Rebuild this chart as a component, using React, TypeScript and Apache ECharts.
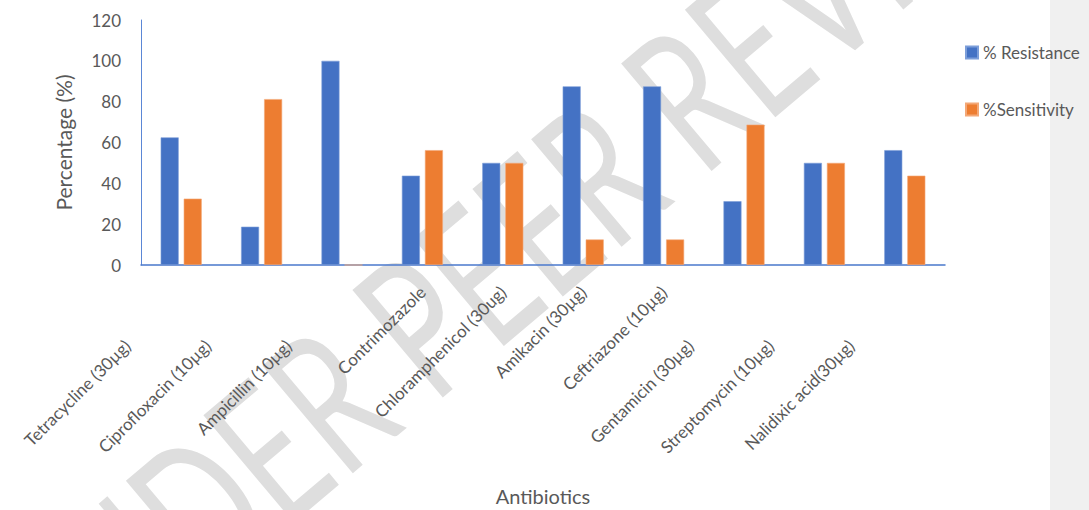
import React, { useEffect, useRef } from "react";
import * as echarts from "echarts";

const categories = [
  "Tetracycline (30µg)",
  "Ciprofloxacin (10µg)",
  "Ampicillin (10µg)",
  "Contrimozazole",
  "Chloramphenicol (30ug)",
  "Amikacin (30µg)",
  "Ceftriazone (10µg)",
  "Gentamicin (30µg)",
  "Streptomycin (10µg)",
  "Nalidixic acid(30µg)",
];
const resistance = [62.5, 18.75, 100, 43.75, 50, 87.5, 87.5, 31.25, 50, 56.25];
const sensitivity = [32.5, 81.25, 0, 56.25, 50, 12.5, 12.5, 68.75, 50, 43.75];
const yTicks = { min: 0, max: 120, interval: 20 };
// categories whose labels sit further down along their diagonal
const loweredLabels = [0, 1, 2, 7, 8, 9];

const FONT = "Lato, 'Open Sans', sans-serif";
const GREY = "#595959";

export default function App() {
  const ref = useRef<HTMLDivElement>(null);
  useEffect(() => {
    document.body.style.margin = "0";
    const chart = echarts.init(ref.current!, undefined, { renderer: "svg" });
    chart.setOption({
      animation: false,
      backgroundColor: "#ffffff",
      textStyle: { fontFamily: FONT },
      graphic: [
        {
          type: "rect",
          z: -20,
          silent: true,
          shape: { x: 1050, y: 0, width: 39, height: 510 },
          style: { fill: "#f0f0f0" },
        },
        {
          type: "text",
          z: -10,
          silent: true,
          x: 522,
          y: 232,
          rotation: 0.7,
          scaleX: 0.68,
          scaleY: 1,
          style: {
            text: "UNDER PEER REVIEW",
            font: "normal 196px " + FONT,
            fill: "#dedede",
            align: "center",
            verticalAlign: "middle",
          },
        },
      ],
      legend: {
        orient: "vertical",
        left: 965,
        top: 44,
        padding: 0,
        itemWidth: 12,
        itemHeight: 12,
        itemGap: 40,
        icon: "rect",
        textStyle: { color: GREY, fontSize: 17, fontFamily: FONT },
        data: ["% Resistance", "%Sensitivity"],
      },
      grid: { left: 141, right: 144, top: 20, bottom: 245, containLabel: false },
      xAxis: {
        type: "category",
        data: categories.map((c, i) =>
          loweredLabels.includes(i)
            ? { value: c, textStyle: { padding: [10, 76, 0, 0] } }
            : { value: c, textStyle: { padding: [10, 0, 0, 0] } }
        ),
        axisLine: { show: true, lineStyle: { color: "#4a78cc", width: 1.5 } },
        axisTick: { show: false },
        axisLabel: {
          rotate: 45,
          interval: 0,
          margin: 24,
          color: GREY,
          fontSize: 17,
          fontFamily: FONT,
        },
        name: "Antibiotics",
        nameLocation: "middle",
        nameGap: 221,
        nameTextStyle: { color: GREY, fontSize: 20, fontFamily: FONT },
      },
      yAxis: {
        type: "value",
        min: yTicks.min,
        max: yTicks.max,
        interval: yTicks.interval,
        splitLine: { show: false },
        axisLine: { show: true, lineStyle: { color: "#5b87d6", width: 1 } },
        axisTick: { show: false },
        axisLabel: { color: GREY, fontSize: 17, margin: 20, fontFamily: FONT },
        name: "Percentage (%)",
        nameLocation: "middle",
        nameGap: 67,
        nameTextStyle: { color: GREY, fontSize: 21, fontFamily: FONT },
      },
      series: [
        {
          name: "% Resistance",
          type: "bar",
          data: resistance,
          barWidth: 18,
          barGap: "28%",
          itemStyle: { color: "#4472c4", borderColor: "#7c9ed9", borderWidth: 0.6 },
        },
        {
          name: "%Sensitivity",
          type: "bar",
          data: sensitivity,
          barWidth: 18,
          itemStyle: { color: "#ed7d31", borderColor: "#f3a877", borderWidth: 0.6 },
        },
      ],
    });
    return () => chart.dispose();
  }, []);
  return <div ref={ref} style={{ width: 1089, height: 510 }} />;
}
